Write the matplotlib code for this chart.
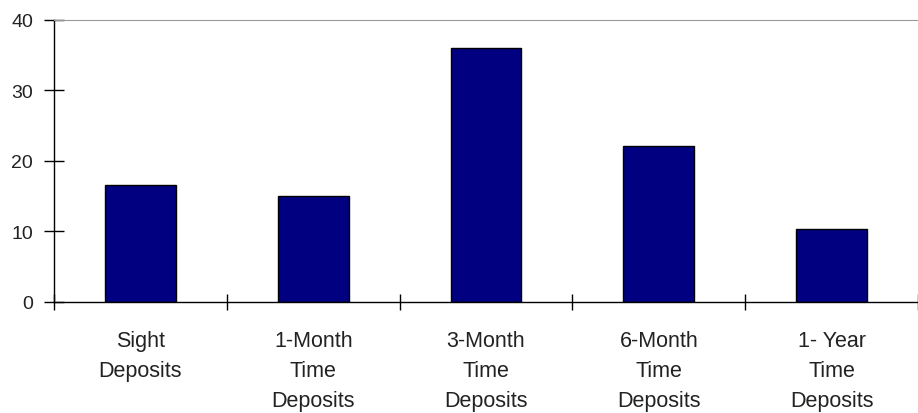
import numpy as np
import matplotlib.pyplot as plt

categories = ["Sight\nDeposits", "1-Month\nTime\nDeposits", "3-Month\nTime\nDeposits",
              "6-Month\nTime\nDeposits", "1- Year\nTime\nDeposits"]
values = [16.6, 15.0, 36.0, 22.1, 10.4]
yticks = [0, 10, 20, 30, 40]

plt.rcParams['font.family'] = ['Liberation Sans', 'DejaVu Sans']

fig = plt.figure(figsize=(9.18, 4.14), dpi=100)
ax = fig.add_axes([54/918, (414-303)/414, 1-54/918, (303-20.7)/414])

x = np.arange(len(categories))
ax.bar(x, values, width=0.41, color="#000080", edgecolor="black", linewidth=1.0)

ax.set_xlim(-0.5, len(categories)-0.5)
ax.set_ylim(0, 40)
ax.set_yticks(yticks)
ax.set_yticklabels([str(v) for v in yticks], fontsize=14, color="#222222")

# 目盛りはカテゴリの境界に
ax.set_xticks(np.arange(len(categories)+1) - 0.5)
ax.set_xticklabels([])
ax.set_xticks(x, minor=True)
ax.set_xticklabels(categories, minor=True, fontsize=15.5, color="#222222", linespacing=1.58, va="top")
ax.tick_params(axis="x", which="minor", length=0, pad=20)
ax.tick_params(axis="x", which="major", direction="inout", length=12, width=1)
ax.tick_params(axis="y", direction="inout", length=14, width=1, pad=8)

ax.spines["right"].set_visible(False)
ax.spines["top"].set_color("#999999")
ax.spines["left"].set_linewidth(1)
ax.spines["bottom"].set_linewidth(1)

fig.savefig("out.png", dpi=100)
